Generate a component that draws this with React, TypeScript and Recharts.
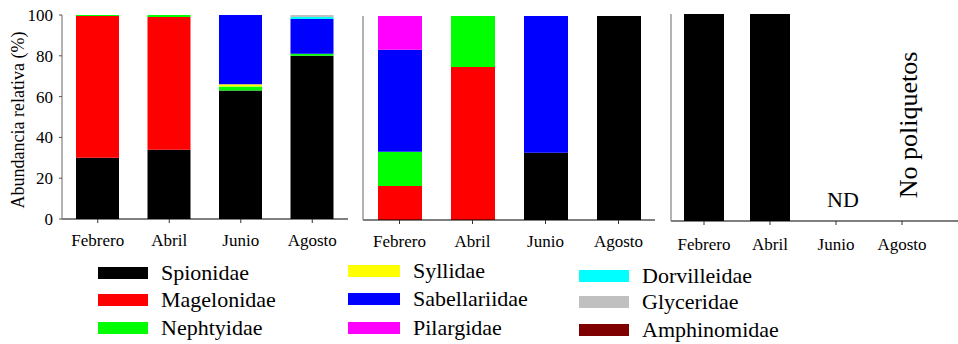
import React from 'react';
import { BarChart, Bar, XAxis, YAxis } from 'recharts';

const months = ['Febrero', 'Abril', 'Junio', 'Agosto'];

const families = [
  'Spionidae',
  'Magelonidae',
  'Nephtyidae',
  'Syllidae',
  'Sabellariidae',
  'Pilargidae',
  'Dorvilleidae',
  'Glyceridae',
  'Amphinomidae',
];

const familyColors = [
  '#000000',
  '#ff0000',
  '#00ff00',
  '#ffff00',
  '#0000ff',
  '#ff00ff',
  '#00ffff',
  '#c0c0c0',
  '#7f0000',
];

// abundancia relativa (%) por mes, una lista por familia
const stationA: Record<string, number[]> = {
  Spionidae: [30, 34, 63, 80],
  Magelonidae: [69.5, 65, 0, 0],
  Nephtyidae: [0.5, 1, 2, 1],
  Syllidae: [0, 0, 1, 0],
  Sabellariidae: [0, 0, 34, 17],
  Dorvilleidae: [0, 0, 0, 1],
  Glyceridae: [0, 0, 0, 1],
};

const stationB: Record<string, number[]> = {
  Spionidae: [0, 0, 33, 100],
  Magelonidae: [16.7, 75, 0, 0],
  Nephtyidae: [16.7, 25, 0, 0],
  Sabellariidae: [50, 0, 67, 0],
  Pilargidae: [16.6, 0, 0, 0],
};

const stationC: Record<string, number[]> = {
  Spionidae: [100, 100, 0, 0],
};

const yTicks = [0, 20, 40, 60, 80, 100];

const serif = 'Liberation Serif';

const toRows = (station: Record<string, number[]>) =>
  months.map((month, i) => {
    const row: Record<string, string | number> = { month };
    families.forEach((f) => {
      row[f] = station[f] ? station[f][i] : 0;
    });
    return row;
  });

interface PanelProps {
  station: Record<string, number[]>;
  left: number;
  width: number;
  top: number;
  bottom: number;
  right: number;
  yWidth: number;
  barSize: number;
  xTickMargin: number;
  padRight?: number;
  showYLabels?: boolean;
  children?: React.ReactNode;
}

function Panel({
  station,
  left,
  width,
  top,
  bottom,
  right,
  yWidth,
  barSize,
  xTickMargin,
  padRight = 0,
  showYLabels = false,
  children,
}: PanelProps) {
  const yLabel = ({ viewBox }: any) => {
    const cx = 18;
    const cy = viewBox.y + viewBox.height / 2 + 3;
    return (
      <text
        x={cx}
        y={cy}
        transform={`rotate(-90, ${cx}, ${cy})`}
        textAnchor="middle"
        dominantBaseline="central"
        style={{ fontSize: 18, fontFamily: serif }}
        fill="#000"
      >
        Abundancia relativa (%)
      </text>
    );
  };

  const tickStyle = { fill: '#000', fontSize: 17, fontFamily: serif, style: { fontFamily: serif } };

  return (
    <div style={{ position: 'absolute', left, top: 0, width, height: 260, fontFamily: serif }}>
      <BarChart
        width={width}
        height={260}
        data={toRows(station)}
        margin={{ top, right, bottom, left: 0 }}
        barSize={barSize}
        style={{ fontFamily: serif }}
      >
        <XAxis
          dataKey="month"
          interval={0}
          height={30}
          tickSize={4}
          tickMargin={xTickMargin}
          padding={{ left: 0, right: padRight }}
          axisLine={{ stroke: '#000', strokeWidth: 1.2 }}
          tickLine={{ stroke: '#333' }}
          tick={tickStyle}
        />
        <YAxis
          type="number"
          domain={[0, 100]}
          ticks={yTicks}
          interval={0}
          width={yWidth}
          tickSize={3}
          tickMargin={6}
          axisLine={{ stroke: '#808080', strokeWidth: 1.2 }}
          tickLine={{ stroke: '#555' }}
          tick={showYLabels ? tickStyle : false}
          label={showYLabels ? yLabel : undefined}
        />
        {families.map((f, i) => (
          <Bar
            key={f}
            dataKey={f}
            stackId="a"
            fill={familyColors[i]}
            isAnimationActive={false}
          />
        ))}
      </BarChart>
      {children}
    </div>
  );
}

const legendSwatchX = [98, 348, 579];
const legendSwatchW = [50, 52, 50];
const legendTextX = [161, 413, 642];
const legendRowY = [
  [273, 300, 328],
  [271, 299, 328],
  [276, 302, 330],
];

function FamilyLegend() {
  return (
    <svg
      width={958}
      height={344}
      style={{ position: 'absolute', left: 0, top: 0, pointerEvents: 'none', fontFamily: serif }}
    >
      {families.map((f, i) => {
        const col = Math.floor(i / 3);
        const row = i % 3;
        const cy = legendRowY[col][row];
        return (
          <g key={f}>
            <rect
              x={legendSwatchX[col]}
              y={cy - 6}
              width={legendSwatchW[col]}
              height={12}
              fill={familyColors[i]}
            />
            <text x={legendTextX[col]} y={cy + 7} style={{ fontSize: 22, fontFamily: serif }} fill="#000">
              {f}
            </text>
          </g>
        );
      })}
    </svg>
  );
}

export default function App() {
  return (
    <div
      style={{
        position: 'absolute',
        left: 0,
        top: 0,
        width: 958,
        height: 344,
        overflow: 'hidden',
        background: '#fff',
        fontFamily: serif,
      }}
    >
      <Panel
        station={stationA}
        left={0}
        width={360}
        top={15}
        bottom={11}
        right={12}
        yWidth={62}
        barSize={43}
        xTickMargin={11}
        showYLabels
      />
      <Panel
        station={stationB}
        left={340}
        width={330}
        top={16}
        bottom={10}
        right={15}
        yWidth={23}
        barSize={44}
        xTickMargin={11}
      />
      <Panel
        station={stationC}
        left={650}
        width={308}
        top={14}
        bottom={9}
        right={0}
        yWidth={21}
        barSize={40}
        xTickMargin={13}
        padRight={23}
      >
        <svg
          width={308}
          height={260}
          style={{ position: 'absolute', left: 0, top: 0, pointerEvents: 'none' }}
        >
          <text x={193} y={207} textAnchor="middle" style={{ fontSize: 22, fontFamily: serif }} fill="#000">
            ND
          </text>
          <text
            x={267}
            y={125}
            transform="rotate(-90, 267, 125)"
            textAnchor="middle"
            style={{ fontSize: 26, fontFamily: serif }}
            fill="#000"
          >
            No poliquetos
          </text>
        </svg>
      </Panel>
      <FamilyLegend />
    </div>
  );
}
